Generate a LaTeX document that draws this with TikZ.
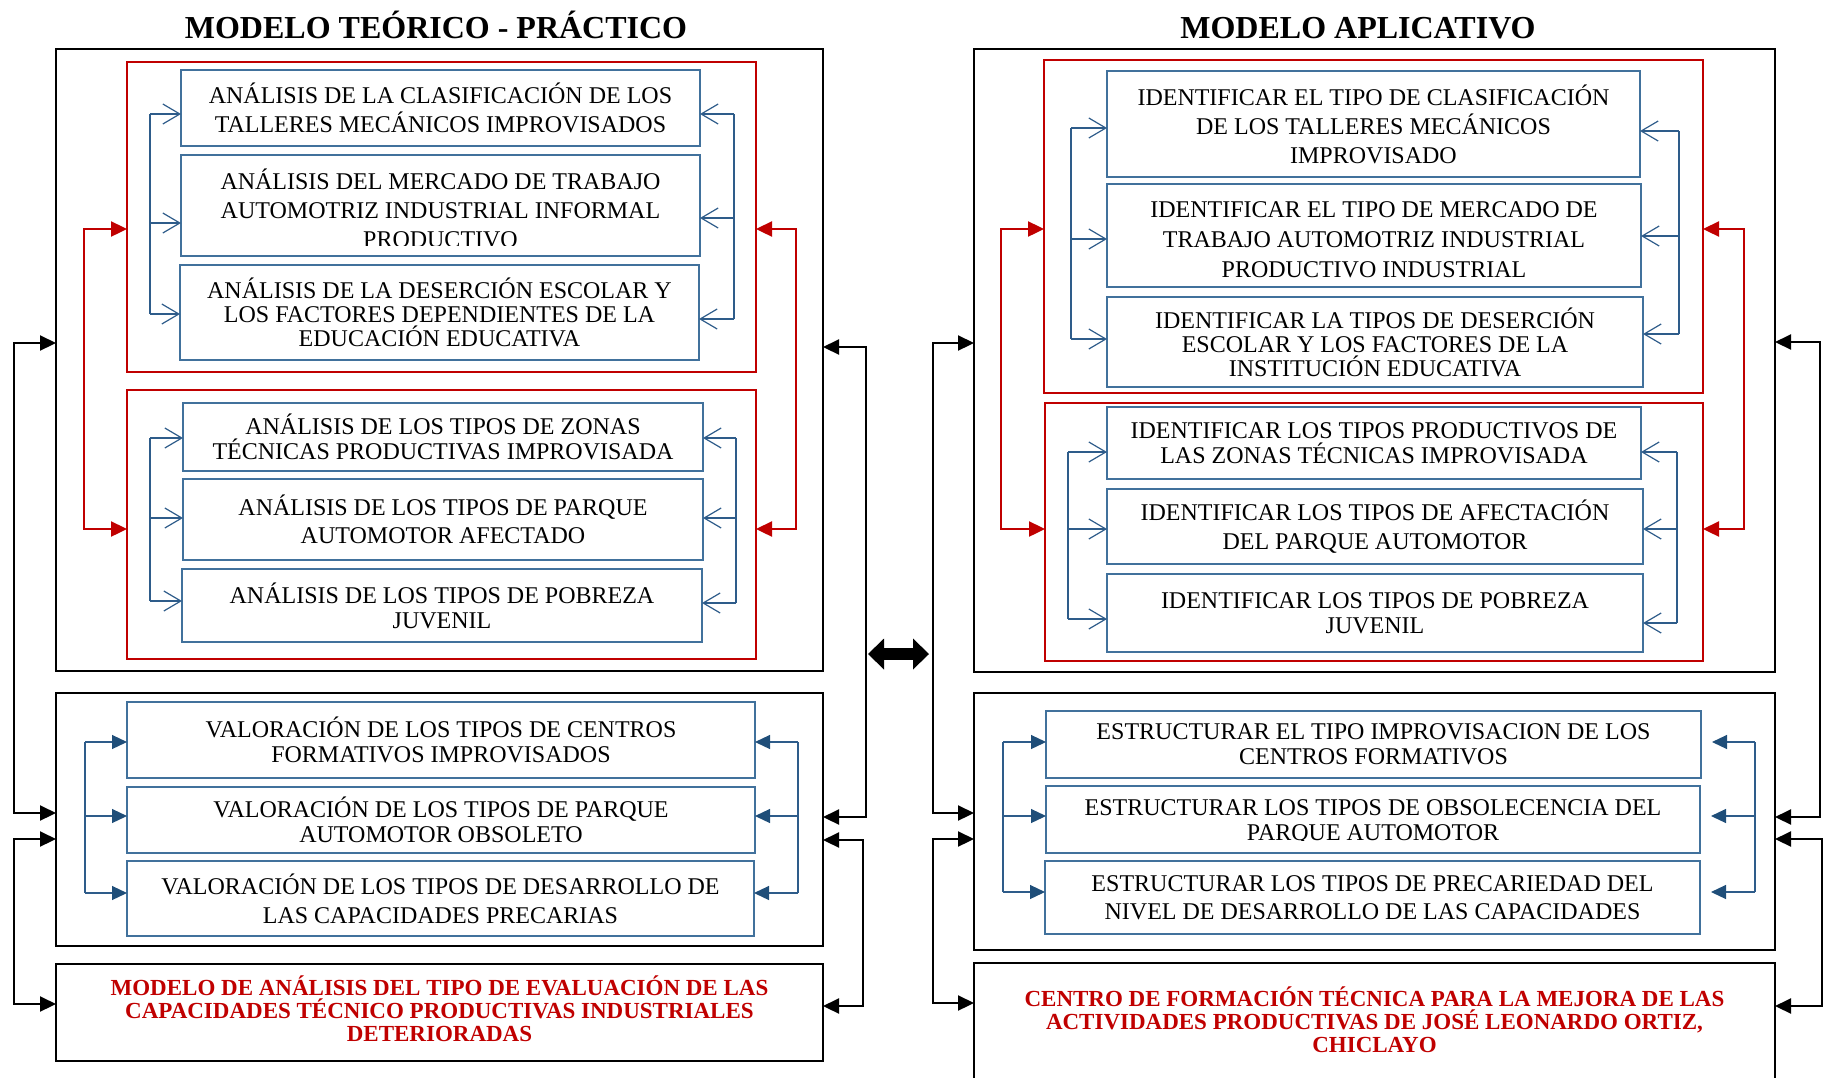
\documentclass[tikz,border=0pt]{standalone}
\usepackage{fontspec}
\setmainfont{Liberation Serif}
\usetikzlibrary{arrows.meta,calc}
\definecolor{myred}{HTML}{C00000}
\definecolor{bxblue}{HTML}{41719C}
\definecolor{lnblue}{HTML}{2E5C8A}
\definecolor{fbl}{HTML}{1F4E79}
\tikzset{
 obarb/.tip={Straight Barb[length=17pt,width=20pt]},
 fblu/.tip={Triangle[length=15pt,width=14pt,color=fbl]},
 fredt/.tip={Triangle[length=16pt,width=15pt]},
 fblk/.tip={Triangle[length=16pt,width=15pt]},
}
\newcommand{\brkt}[9]{%
 \coordinate (s1) at (#2,#3); \coordinate (s3) at (#2,#7);
 \draw[#1,shorten >=0pt] (s1) -- (s3);
 \foreach \yy/\aa in {#3/#4,#5/#6,#7/#8}{%
   \coordinate (bp) at (#2,\yy);
   \draw[#1,-{#9}] (bp) -- (bp -| \aa);
 }%
}
\newcommand{\lnk}[7]{%
 \coordinate (p1) at (#2,#3); \coordinate (p2) at (#2,#5);
 \draw[#1,{#7}-{#7}] (p1 -| #4) -- (p1) -- (p2) -- (p2 -| #6);
}
\begin{document}
\begin{tikzpicture}[x=1pt,y=-1pt,
 obox/.style={draw=black,line width=2.2pt,inner sep=0pt,outer sep=0pt},
 rbox/.style={draw=myred,line width=2.6pt,inner sep=0pt,outer sep=0pt},
 bbox/.style={draw=bxblue,line width=1.5pt,inner sep=0pt,outer sep=0pt,align=center,font=\fontsize{24}{29}\selectfont},
 txt/.style={inner sep=0pt,align=center,font=\fontsize{24}{29}\selectfont},
 lsp/.style={font=\fontsize{24}{#1}\selectfont},
 rtxt/.style={inner sep=0pt,text=myred,align=center,font=\bfseries\fontsize{23}{23}\selectfont},
 ttl/.style={font=\bfseries\fontsize{32}{36}\selectfont,anchor=base,inner sep=0pt},
 bl/.style={draw=lnblue,line width=1.2pt},
 rl/.style={draw=myred,line width=2.4pt},
 kl/.style={draw=black,line width=2.2pt}]
\useasboundingbox (0,0) rectangle (1824,1077);
\clip (0,0) rectangle (1824,1077);

% titles
\node[ttl] (T1) at (436,38) {MODELO TEÓRICO - PRÁCTICO};
\node[ttl] (T2) at (1358,38) {MODELO APLICATIVO};

% ---------------- left panel ----------------
\node[obox,minimum width=767,minimum height=622] (OL1) at (439.5,360) {};
\node[rbox,minimum width=629,minimum height=310] (RL1) at (441.5,217) {};
\node[rbox,minimum width=629,minimum height=269] (RL2) at (441.5,524.5) {};
\node[obox,minimum width=767,minimum height=253] (OL2) at (439.5,819.5) {};
\node[obox,minimum width=767,minimum height=97] (OL3) at (439.5,1012.5) {};
\node[rtxt] (OL3t) at (439.5,1008.5)
 {MODELO DE ANÁLISIS DEL TIPO DE EVALUACIÓN DE LAS\\CAPACIDADES TÉCNICO PRODUCTIVAS INDUSTRIALES\\DETERIORADAS};

\node[bbox,minimum width=519,minimum height=76] (L1) at (440.5,108)
 {ANÁLISIS DE LA CLASIFICACIÓN DE LOS\\TALLERES MECÁNICOS IMPROVISADOS};
\node[bbox,minimum width=519,minimum height=101] (L2) at (440.5,205.5) {};
\begin{scope}
 \clip (L2.north west) rectangle ($(L2.south east)+(0,-11)$);
 \node[txt] (L2t) at (440.5,208) {ANÁLISIS DEL MERCADO DE TRABAJO\\AUTOMOTRIZ INDUSTRIAL INFORMAL\\PRODUCTIVO};
\end{scope}
\node[bbox,lsp=24,minimum width=519,minimum height=95] (L3) at (439.5,312.5)
 {ANÁLISIS DE LA DESERCIÓN ESCOLAR Y\\LOS FACTORES DEPENDIENTES DE LA\\EDUCACIÓN EDUCATIVA};
\node[bbox,lsp=25,minimum width=520,minimum height=68] (L4) at (443,437)
 {ANÁLISIS DE LOS TIPOS DE ZONAS\\TÉCNICAS PRODUCTIVAS IMPROVISADA};
\node[bbox,lsp=28,minimum width=520,minimum height=81] (L5) at (443,519.5)
 {ANÁLISIS DE LOS TIPOS DE PARQUE\\AUTOMOTOR AFECTADO};
\node[bbox,lsp=25,minimum width=520,minimum height=73] (L6) at (442,605.5)
 {ANÁLISIS DE LOS TIPOS DE POBREZA\\JUVENIL};
\node[bbox,lsp=25,minimum width=628,minimum height=76] (L7) at (441,740)
 {VALORACIÓN DE LOS TIPOS DE CENTROS\\FORMATIVOS IMPROVISADOS};
\node[bbox,lsp=25,minimum width=628,minimum height=66] (L8) at (441,820)
 {VALORACIÓN DE LOS TIPOS DE PARQUE\\AUTOMOTOR OBSOLETO};
\node[bbox,lsp=29,minimum width=627,minimum height=75] (L9) at (440.5,898.5)
 {VALORACIÓN DE LOS TIPOS DE DESARROLLO DE\\LAS CAPACIDADES PRECARIAS};

% ---------------- right panel ----------------
\node[obox,minimum width=801,minimum height=623] (OR1) at (1374.5,360.5) {};
\node[rbox,minimum width=659,minimum height=333] (RR1) at (1373.5,226.5) {};
\node[rbox,minimum width=658,minimum height=258] (RR2) at (1374,532) {};
\node[obox,minimum width=801,minimum height=257] (OR2) at (1374.5,821.5) {};
\node[obox,minimum width=801,minimum height=117] (OR3) at (1374.5,1021.5) {};
\node[rtxt] (OR3t) at (1374.5,1019.5)
 {CENTRO DE FORMACIÓN TÉCNICA PARA LA MEJORA DE LAS\\ACTIVIDADES PRODUCTIVAS DE JOSÉ LEONARDO ORTIZ,\\CHICLAYO};

\node[bbox,lsp=29,minimum width=533,minimum height=106] (R1) at (1373.5,124)
 {IDENTIFICAR EL TIPO DE CLASIFICACIÓN\\DE LOS TALLERES MECÁNICOS\\IMPROVISADO};
\node[bbox,minimum width=534,minimum height=103] (R2) at (1374,235.5) {};
\node[txt,lsp=30] (R2t) at (1374,239.5)
 {IDENTIFICAR EL TIPO DE MERCADO DE\\TRABAJO AUTOMOTRIZ INDUSTRIAL\\PRODUCTIVO INDUSTRIAL};
\node[bbox,lsp=24,minimum width=536,minimum height=90] (R3) at (1375,342)
 {IDENTIFICAR LA TIPOS DE DESERCIÓN\\ESCOLAR Y LOS FACTORES DE LA\\INSTITUCIÓN EDUCATIVA};
\node[bbox,lsp=25,minimum width=534,minimum height=72] (R4) at (1374,443)
 {IDENTIFICAR LOS TIPOS PRODUCTIVOS DE\\LAS ZONAS TÉCNICAS IMPROVISADA};
\node[bbox,lsp=29,minimum width=536,minimum height=75] (R5) at (1375,526.5)
 {IDENTIFICAR LOS TIPOS DE AFECTACIÓN\\DEL PARQUE AUTOMOTOR};
\node[bbox,lsp=25,minimum width=536,minimum height=78] (R6) at (1375,613)
 {IDENTIFICAR LOS TIPOS DE POBREZA\\JUVENIL};
\node[bbox,lsp=25,minimum width=655,minimum height=67] (R7) at (1373.5,744.5)
 {ESTRUCTURAR EL TIPO IMPROVISACION DE LOS\\CENTROS FORMATIVOS};
\node[bbox,minimum width=654,minimum height=67] (R8) at (1373,819.5) {};
\begin{scope}
 \clip (R8.north west) rectangle ($(R8.south east)+(0,-13)$);
 \node[txt,lsp=25] (R8t) at (1373,821.5) {ESTRUCTURAR LOS TIPOS DE OBSOLECENCIA DEL\\PARQUE AUTOMOTOR};
\end{scope}
\node[bbox,lsp=28,minimum width=655,minimum height=73] (R9) at (1372.5,897.5)
 {ESTRUCTURAR LOS TIPOS DE PRECARIEDAD DEL\\NIVEL DE DESARROLLO DE LAS CAPACIDADES};

% ---------------- blue brackets ----------------
\brkt{bl}{150}{114}{L1.west}{223}{L2.west}{314}{L3.west}{obarb}
\brkt{bl}{734}{114}{L1.east}{218}{L2.east}{319}{L3.east}{obarb}
\brkt{bl}{150}{438}{L4.west}{518}{L5.west}{601}{L6.west}{obarb}
\brkt{bl}{736}{438}{L4.east}{518}{L5.east}{603}{L6.east}{obarb}
\brkt{bl}{85}{742}{L7.west}{816}{L8.west}{893}{L9.west}{fblu}
\brkt{bl}{798}{742}{L7.east}{816}{L8.east}{893}{L9.east}{fblu}
\brkt{bl}{1071}{128}{R1.west}{239}{R2.west}{339}{R3.west}{obarb}
\brkt{bl}{1679}{131}{R1.east}{236}{R2.east}{334}{R3.east}{obarb}
\brkt{bl}{1068}{452}{R4.west}{529}{R5.west}{619}{R6.west}{obarb}
\brkt{bl}{1677}{452}{R4.east}{529}{R5.east}{623}{R6.east}{obarb}
\brkt{bl}{1003}{742}{R7.west}{816}{R8.west}{892}{R9.west}{fblu}
\brkt{bl,shorten >=11pt}{1755}{742}{R7.east}{816}{R8.east}{892}{R9.east}{fblu}

% ---------------- red links ----------------
\lnk{rl}{84}{229}{RL1.west}{529}{RL2.west}{fredt}
\lnk{rl}{796}{229}{RL1.east}{529}{RL2.east}{fredt}
\lnk{rl}{1001}{229}{RR1.west}{529}{RR2.west}{fredt}
\lnk{rl}{1744}{229}{RR1.east}{529}{RR2.east}{fredt}

% ---------------- black links ----------------
\lnk{kl}{14}{343}{OL1.west}{813}{OL2.west}{fblk}
\lnk{kl}{14}{839}{OL2.west}{1004}{OL3.west}{fblk}
\lnk{kl}{866}{347}{OL1.east}{817}{OL2.east}{fblk}
\lnk{kl}{863}{840}{OL2.east}{1006}{OL3.east}{fblk}
\lnk{kl}{933}{343}{OR1.west}{813}{OR2.west}{fblk}
\lnk{kl}{933}{839}{OR2.west}{1003}{OR3.west}{fblk}
\lnk{kl}{1820}{342}{OR1.east}{817}{OR2.east}{fblk}
\lnk{kl}{1822}{839}{OR2.east}{1006}{OR3.east}{fblk}

% ---------------- big double arrow ----------------
\coordinate (dA) at (868,654);
\coordinate (dB) at (929,654);
\draw[line width=12pt,{Triangle[length=16pt,width=31pt,line width=0pt]}-{Triangle[length=16pt,width=31pt,line width=0pt]}] (dA) -- (dB);
\end{tikzpicture}
\end{document}
